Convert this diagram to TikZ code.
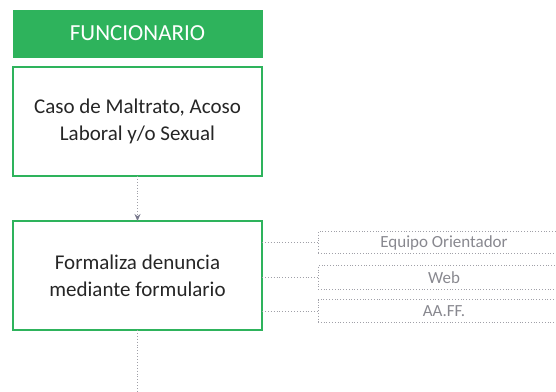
\documentclass[tikz,border=0pt]{standalone}
\usepackage{fontspec}
\setmainfont{Carlito}
\usepackage{xcolor}
\usetikzlibrary{calc,arrows.meta,positioning}
\definecolor{verde}{RGB}{46,179,92}
\definecolor{gris}{RGB}{160,160,168}
\definecolor{punta}{RGB}{120,120,140}
\tikzset{
  head/.style={rectangle, draw=verde, fill=verde, text=white, minimum width=249pt, minimum height=47pt, font=\fontsize{23}{27}\selectfont, outer sep=0pt},
  paso/.style={rectangle, draw=verde, line width=1.4pt, fill=white, minimum width=249pt, minimum height=109pt, align=center, text=black!85, font=\fontsize{21}{27}\selectfont, outer sep=0pt},
  canal/.style={rectangle, draw=gris, dotted, line width=0.8pt, minimum width=252pt, text=gris!85!black, font=\fontsize{17}{20}\selectfont, outer sep=0pt},
  enlace/.style={draw=gris, dotted, line width=0.9pt}
}
\begin{document}
\begin{tikzpicture}[x=1pt,y=1pt]
\useasboundingbox (0,0) rectangle (556,-391);
\clip (0,0) rectangle (556,-391);
% columna funcionario
\node[head] (func) at (137.5,-33.5) {FUNCIONARIO};
\node[paso, below=10pt of func] (caso) {Caso de Maltrato, Acoso\\Laboral y/o Sexual};
\node[paso, below=45pt of caso] (denuncia) {Formaliza denuncia\\mediante formulario};
% canales
\node[canal, minimum height=22pt, anchor=west] (equipo) at (318,-242.5) {Equipo Orientador};
\node[canal, minimum height=24pt, anchor=west] (web) at (318,-277.5) {Web};
\node[canal, minimum height=23pt, anchor=west] (aaff) at (318,-311) {AA.FF.};
\coordinate (fin) at (denuncia.south |- 0,-395);
\draw[enlace, -{Stealth[length=7pt,width=6pt,color=punta,fill=punta]}] (caso) -- (denuncia);
\draw[enlace] (denuncia) -- (fin);
\draw[enlace] (denuncia.east |- equipo.west) -- (equipo.west);
\draw[enlace] (denuncia.east |- web.west) -- (web.west);
\draw[enlace] (denuncia.east |- aaff.west) -- (aaff.west);
\end{tikzpicture}
\end{document}
